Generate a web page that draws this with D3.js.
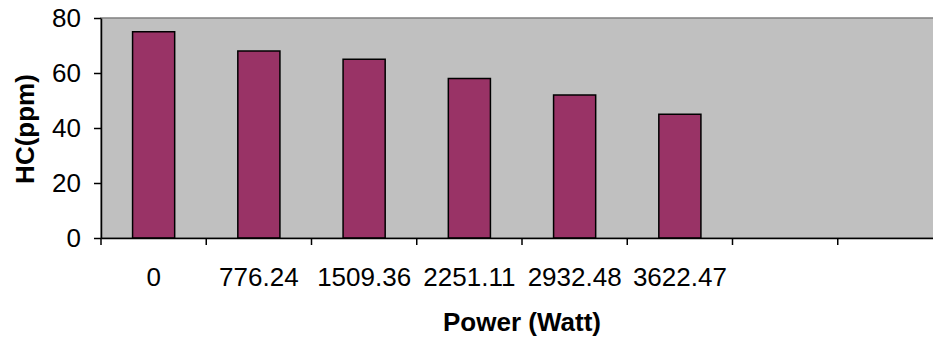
<!DOCTYPE html>
<html>
<head>
<meta charset="utf-8">
<script src="https://cdn.jsdelivr.net/npm/d3@7"></script>
<style>
  html, body { margin: 0; padding: 0; background: #ffffff; }
  svg { display: block; }
  text { font-family: "Liberation Sans", Arial, sans-serif; fill: #000; }
</style>
</head>
<body>
<svg id="chart" width="933" height="341"></svg>
<script>
// Category slots on the x axis (the last two slots are empty)
const categories = ["0", "776.24", "1509.36", "2251.11", "2932.48", "3622.47", "", ""];
// HC emission (ppm) per power level
const hcValues = [75, 68, 65, 58, 52, 45];
const yTicks = [0, 20, 40, 60, 80];
const xTitle = "Power (Watt)";
const yTitle = "HC(ppm)";

const FONT = 26;
const plot = { left: 101, right: 943, top: 18, bottom: 238 };

const svg = d3.select("#chart");

const x = d3.scaleBand()
  .domain(d3.range(categories.length))
  .range([plot.left, plot.right])
  .paddingInner(0.6)
  .paddingOuter(0.3);

const y = d3.scaleLinear()
  .domain([0, 80])
  .range([plot.bottom, plot.top]);

// Plot area background
svg.append("rect")
  .attr("x", plot.left).attr("y", plot.top)
  .attr("width", plot.right - plot.left).attr("height", plot.bottom - plot.top)
  .attr("fill", "#c0c0c0")
  .attr("stroke", "#808080").attr("stroke-width", 1.5);

// Bars
svg.append("g").selectAll("rect")
  .data(hcValues)
  .join("rect")
  .attr("x", (d, i) => x(i))
  .attr("y", d => y(d))
  .attr("width", x.bandwidth())
  .attr("height", d => y(0) - y(d))
  .attr("fill", "#993366")
  .attr("stroke", "#000")
  .attr("stroke-width", 1.5);

// Y axis
const yAxis = svg.append("g")
  .attr("transform", `translate(${plot.left},0)`)
  .call(d3.axisLeft(y).tickValues(yTicks).tickSize(7).tickPadding(13).tickSizeOuter(0));
yAxis.select(".domain").attr("stroke", "#000").attr("stroke-width", 1.5);
yAxis.selectAll(".tick line").attr("stroke", "#000").attr("stroke-width", 1.5);
yAxis.selectAll("text").attr("font-size", FONT).attr("font-family", "Liberation Sans, Arial, sans-serif");

// X axis: labels centred in each slot
const xAxis = svg.append("g")
  .attr("transform", `translate(0,${plot.bottom})`)
  .call(d3.axisBottom(x).tickFormat(i => categories[i]).tickSize(0).tickPadding(30).tickSizeOuter(0));
xAxis.select(".domain").attr("stroke", "#000").attr("stroke-width", 1.5);
xAxis.selectAll("text").attr("font-size", FONT).attr("font-family", "Liberation Sans, Arial, sans-serif");

// X tick marks sit on the slot boundaries
const boundaries = d3.range(categories.length + 1).map(i => plot.left + i * x.step());
xAxis.append("g").selectAll("line")
  .data(boundaries)
  .join("line")
  .attr("x1", d => d).attr("x2", d => d)
  .attr("y1", 0).attr("y2", 7)
  .attr("stroke", "#000").attr("stroke-width", 1.5);

// Axis titles
svg.append("text")
  .attr("x", (plot.left + plot.right) / 2)
  .attr("y", 331)
  .attr("text-anchor", "middle")
  .attr("font-size", FONT)
  .attr("font-weight", "bold")
  .text(xTitle);

svg.append("text")
  .attr("transform", `translate(33.5,${(plot.top + plot.bottom) / 2 + 1}) rotate(-90)`)
  .attr("text-anchor", "middle")
  .attr("font-size", FONT)
  .attr("font-weight", "bold")
  .text(yTitle);
</script>
</body>
</html>
